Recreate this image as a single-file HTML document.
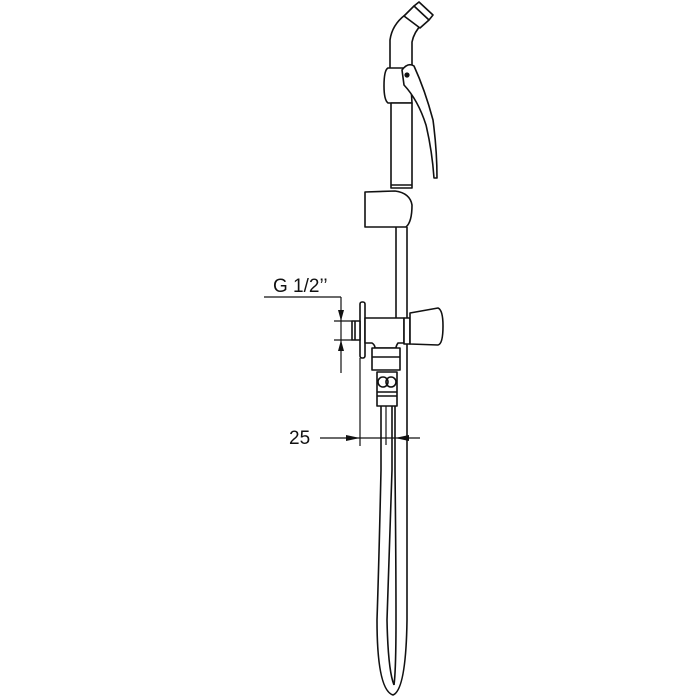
<!DOCTYPE html>
<html><head><style>html,body{margin:0;padding:0;background:#fff}svg{display:block}</style></head>
<body>
<svg width="700" height="700" viewBox="0 0 700 700" xmlns="http://www.w3.org/2000/svg" fill="none" stroke="#111" stroke-width="1.6" stroke-linejoin="round">
<!-- nozzle -->
<path d="M390 68 L390 40 Q392 25 405 15 M412 68 L412 42 Q414 32 422 24"/>
<path d="M404 16 L414 6 L429 20 L420 28 Z" fill="#fff"/>
<path d="M414 6 L419 2 L433 15 L429 20" />
<!-- collar -->
<path d="M388 68 L410 68 L412 103 L388 103 Q384 100 384 86 Q384 70 388 68 Z" fill="#fff"/>
<!-- lever -->
<path d="M402 70 Q408 62 414 66 Q425 90 433 120 Q437 150 437 178 L434 178 Q432 150 426 125 Q418 100 404 85 Z" fill="#fff"/>
<circle cx="407" cy="75" r="1.8" fill="#111"/>
<!-- tube -->
<rect x="391" y="103" width="21" height="85" fill="#fff"/>
<line x1="391" y1="185" x2="412" y2="185"/>
<!-- holder -->
<path d="M365 192 L395 191 Q410 193 412 205 Q412 222 406 227 L365 227 Z" fill="#fff"/>
<!-- rail -->
<line x1="396" y1="227" x2="396" y2="318"/>
<line x1="407" y1="227" x2="407" y2="318"/>
<line x1="396" y1="343" x2="396" y2="348"/>
<line x1="407" y1="343" x2="407" y2="620"/>
<!-- valve -->
<rect x="360" y="302" width="5" height="56" rx="2" fill="#fff"/>
<rect x="352" y="321" width="8" height="19" fill="#fff"/>
<line x1="355" y1="321" x2="355" y2="340"/>
<path d="M365 318 L404 318 L404 343 L398 343 Q396 346 396 348 L375 348 Q375 345 372 343 L365 343 Z" fill="#fff"/>
<rect x="404" y="318" width="6" height="26" fill="#fff"/>
<path d="M410 313 L438 308 Q443 310 443 326 Q443 344 438 345 L410 344 Z" fill="#fff"/>
<rect x="372" y="348" width="28" height="22" fill="#fff"/>
<line x1="372" y1="357" x2="400" y2="357"/>
<rect x="377" y="372" width="20" height="34" fill="#fff"/>
<circle cx="383" cy="382" r="5"/><circle cx="391" cy="382" r="5"/>
<line x1="377" y1="392" x2="397" y2="392"/>
<line x1="377" y1="396" x2="397" y2="396"/>
<!-- hose -->
<path d="M381 406 L381 470 Q379 560 377 620 Q377 690 393 695 Q406 690 407 620"/>
<path d="M392 406 L392 470 Q389 560 387 620 Q388 670 394 685"/>
<path d="M395 406 L395 470 Q396 560 396 620 Q396 670 394 685"/>
<line x1="386" y1="406" x2="386" y2="445" stroke-width="1.2"/>
<!-- G 1/2 dimension -->
<text x="273" y="292" font-family="Liberation Sans, sans-serif" font-size="19" fill="#111" stroke="none">G 1/2’’</text>
<line x1="264" y1="297" x2="341" y2="297" stroke-width="1.2"/>
<line x1="341" y1="297" x2="341" y2="373" stroke-width="1.2"/>
<line x1="334" y1="321" x2="352" y2="321" stroke-width="1.2"/>
<line x1="334" y1="340" x2="352" y2="340" stroke-width="1.2"/>
<path d="M338 310 L344 310 L341 321 Z M338 351 L344 351 L341 340 Z" fill="#111" stroke="none"/>
<!-- 25 dimension -->
<text x="289" y="444" font-family="Liberation Sans, sans-serif" font-size="19" fill="#111" stroke="none">25</text>
<line x1="320" y1="438" x2="420" y2="438" stroke-width="1.2"/>
<line x1="360" y1="358" x2="360" y2="446" stroke-width="1.2"/>
<path d="M346 435 L346 441 L360 438 Z M409 435 L409 441 L395 438 Z" fill="#111" stroke="none"/>
</svg>
</body></html>
